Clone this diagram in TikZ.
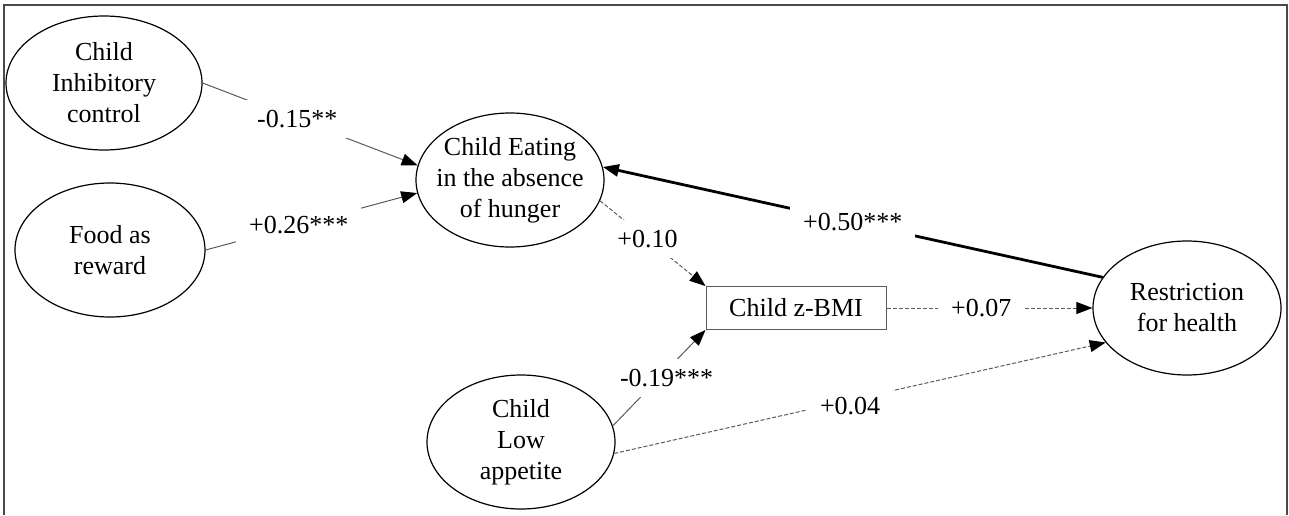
\documentclass[tikz,border=0pt]{standalone}
\usepackage{fontspec}
\setmainfont{Liberation Serif}
\usetikzlibrary{arrows.meta,shapes.geometric}
\definecolor{PathGray}{HTML}{5A5A5A}
\definecolor{FrameGray}{HTML}{4A4A4A}

\begin{document}
\begin{tikzpicture}[x=0.5pt, y=-0.5pt, every node/.style={font=\fontsize{13}{15.5}\selectfont}, latent/.style={ellipse, draw=black, line width=0.6pt, inner xsep=-4pt, inner ysep=0pt, minimum width=94pt, minimum height=67pt, align=center}, obs/.style={rectangle, draw=PathGray, line width=0.5pt, minimum width=90pt, minimum height=21.5pt}, arrow/.style={-{Triangle[length=8pt,width=6pt,color=black]}, line width=0.5pt, draw=PathGray}, strong/.style={arrow, line width=1.4pt, draw=black}, weak/.style={arrow, dash pattern=on 2pt off 1pt}, coef/.style={fill=white, inner xsep=6.5pt, inner ysep=5pt}]
\useasboundingbox (0,0) rectangle (1289,515);
\draw[FrameGray, line width=1pt] (4,515) |- (1287,5) -- (1287,515);
\node[latent, minimum width=98pt] (inh) at (104,83) {Child\\Inhibitory\\control};
\node[latent, minimum width=95pt] (food) at (110,250) {Food as\\reward};
\node[latent] (eah) at (510,180) {Child Eating\\in the absence\\of hunger};
\node[obs] (zbmi) at (796,308) {Child z-BMI};
\node[latent] (restr) at (1187,308) {Restriction\\for health};
\node[latent] (appet) at (521,442) {Child\\Low\\appetite};
\draw[arrow] (inh.east) -- node[coef, pos=0.44] {-0.15**} (eah.171);
\draw[arrow] (food.east) -- node[coef, pos=0.44] {+0.26***} (eah.188);
\draw[strong] (restr.160) -- node[coef, pos=0.5] {+0.50***} (eah.8);
\draw[weak] (eah.-13) -- node[coef, pos=0.45] {+0.10} (zbmi.north west);
\draw[weak] (zbmi.east) -- node[coef, pos=0.46] {+0.07} (restr.west);
\draw[arrow] (appet.10) -- node[coef, pos=0.58, yshift=-4pt] {-0.19***} (zbmi.south west);
\draw[weak] (appet.-7) -- node[coef, pos=0.48, yshift=-3pt] {+0.04} (restr.203);
\end{tikzpicture}
\end{document}
